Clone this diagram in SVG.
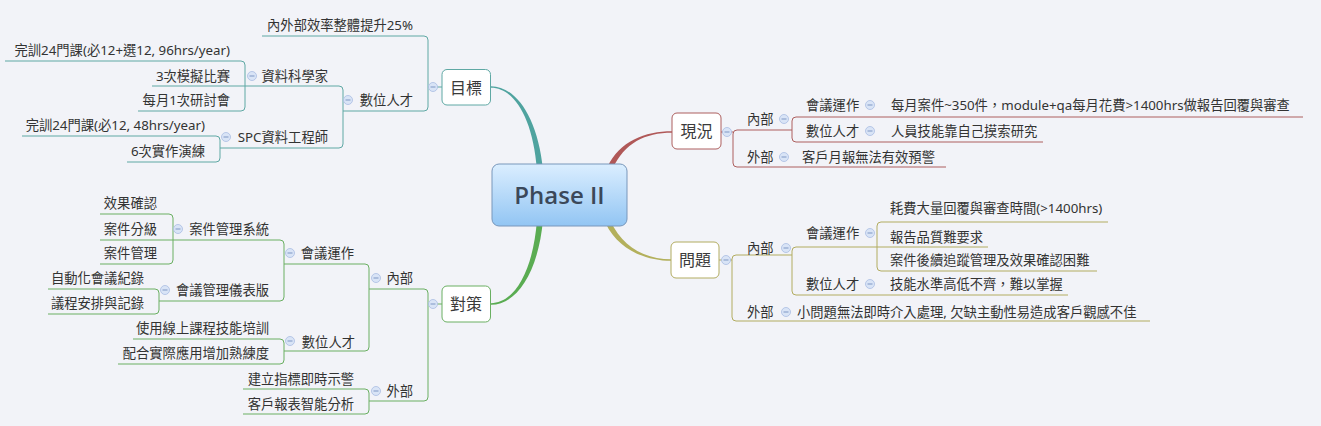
<svg xmlns="http://www.w3.org/2000/svg" xmlns:xlink="http://www.w3.org/1999/xlink" width="1321" height="426" viewBox="0 0 1321 426" xml:lang="zh-TW" lang="zh-TW">
<style>
.t{font-family:"Noto Sans","Noto Sans CJK TC",sans-serif;font-size:13.3px;fill:#333}
.e{text-anchor:end}
.tp{font-family:"Noto Sans","Noto Sans CJK TC",sans-serif;font-size:16px;fill:#3a3a3a;text-anchor:middle}
.ln{fill:none;stroke-width:1}
.teal{stroke:#5fa8a4}
.green{stroke:#6aaf62}
.red{stroke:#ad5f5e}
.olive{stroke:#b2ac60}
.box{fill:#fff;stroke-width:1}
</style>
<defs>
<linearGradient id="cg" x1="0" y1="0" x2="0" y2="1">
<stop offset="0" stop-color="#dbeeff"/>
<stop offset="1" stop-color="#92c5f3"/>
</linearGradient>
<g id="btn"><circle r="4.5" fill="#d9e4f6" stroke="#a9bde2" stroke-width="0.8"/><line x1="-2.5" y1="0" x2="2.5" y2="0" stroke="#7f97c4" stroke-width="1"/></g>
</defs>
<rect width="1321" height="426" fill="#f2f3f8"/>

<g id="connectors">
<path d="M543,170 C538,118 516,86.2 491,86.2 L491,87.8 C514,87.8 533,118 537,170 Z" fill="#4fa39f"/>
<path d="M543,220 C538,274 516,304.8 491,304.8 L491,303.2 C514,303.2 533,272 537,220 Z" fill="#5aac52"/>
<path d="M612.5,169 C624.5,143 645,132.8 672,132.8 L672,131.2 C645,131.2 619.5,141 607.5,167 Z" fill="#b05858"/>
<path d="M610.5,221 C622.5,247 645,259.2 671,259.2 L671,260.8 C645,260.8 617.5,249 605.5,223 Z" fill="#b3b05c"/>

<g class="ln teal">
<path d="M262,36 H424 Q428,36 428,40 V107 Q428,111 424,111 H343"/>
<path d="M428,87 H442"/>
<path d="M152,86 H339 Q343,86 343,90 V144 Q343,148 339,148 H220"/>
<path d="M5,61 H241 Q245,61 245,65 V107 Q245,111 241,111 H138"/>
<path d="M22,136 H216 Q220,136 220,140 V158 Q220,162 216,162 H127"/>
</g>
<g class="ln green">
<path d="M369,289 H424 Q428,289 428,293 V397 Q428,401 424,401 H369"/>
<path d="M428,304 H442"/>
<path d="M284,264 H365 Q369,264 369,268 V347 Q369,351 365,351 H284"/>
<path d="M243,389 H365 Q369,389 369,393 V410 Q369,414 365,414 H243"/>
<path d="M173,240 H280 Q284,240 284,244 V297 Q284,301 280,301 H159"/>
<path d="M100,214 H169 Q173,214 173,218 V260 Q173,264 169,264 H100"/>
<path d="M100,240 H173"/>
<path d="M48,289 H155 Q159,289 159,293 V310 Q159,314 155,314 H48"/>
<path d="M133,339 H280 Q284,339 284,343 V360 Q284,364 280,364 H118"/>
</g>
<g class="ln red">
<path d="M721,132 H733"/>
<path d="M792,130 H737 Q733,130 733,134 V163 Q733,167 737,167 H946"/>
<path d="M1303,117 H796 Q792,117 792,121 V138 Q792,142 796,142 H1043"/>
</g>
<g class="ln olive">
<path d="M719,260 H732"/>
<path d="M792,255 H736 Q732,255 732,259 V317 Q732,321 736,321 H1150"/>
<path d="M988,247 H796 Q792,247 792,251 V291 Q792,295 796,295 H1068"/>
<path d="M1108,222 H881 Q877,222 877,226 V267 Q877,271 881,271 H1097"/>
</g>
</g>

<g id="center">
<rect x="492" y="164" width="135" height="62" rx="7" fill="url(#cg)" stroke="#7897bb" stroke-width="1"/>
<text x="559.5" y="203.5" font-family="'Open Sans','Noto Sans',sans-serif" font-size="24" font-weight="600" fill="#3b4859" text-anchor="middle">Phase II</text>
</g>

<g id="goal">
<rect class="box" x="442" y="69.5" width="48.5" height="35.5" rx="5" stroke="#5fa8a4"/>
<text class="tp" x="466" y="93.5">目標</text>
<use xlink:href="#btn" x="433" y="87"/>
</g>
<g id="goal-eff"><text class="t e" x="413" y="30">內外部效率整體提升25%</text></g>
<g id="goal-talent"><text class="t e" x="413" y="105">數位人才</text><use xlink:href="#btn" x="348" y="100"/></g>
<g id="goal-ds"><text class="t e" x="328" y="81">資料科學家</text><use xlink:href="#btn" x="252" y="76"/></g>
<g id="goal-spc"><text class="t e" x="328" y="142">SPC資料工程師</text><use xlink:href="#btn" x="226" y="137"/></g>
<g id="goal-ds1"><text class="t e" x="230" y="55">完訓24門課(必12+選12, 96hrs/year)</text></g>
<g id="goal-ds2"><text class="t e" x="230" y="81">3次模擬比賽</text></g>
<g id="goal-ds3"><text class="t e" x="230" y="105">每月1次研討會</text></g>
<g id="goal-spc1"><text class="t e" x="205" y="130">完訓24門課(必12, 48hrs/year)</text></g>
<g id="goal-spc2"><text class="t e" x="205" y="156">6次實作演練</text></g>

<g id="measure">
<rect class="box" x="442" y="286" width="48.5" height="36" rx="5" stroke="#6aaf62"/>
<text class="tp" x="466" y="310">對策</text>
<use xlink:href="#btn" x="433" y="304"/>
</g>
<g id="m-in"><text class="t e" x="413" y="283">內部</text><use xlink:href="#btn" x="376" y="278"/></g>
<g id="m-out"><text class="t e" x="413" y="396">外部</text><use xlink:href="#btn" x="376" y="391"/></g>
<g id="m-meet"><text class="t e" x="354" y="258">會議運作</text><use xlink:href="#btn" x="290" y="253"/></g>
<g id="m-talent"><text class="t e" x="355" y="347">數位人才</text><use xlink:href="#btn" x="290" y="341"/></g>
<g id="m-case"><text class="t e" x="269" y="234">案件管理系統</text><use xlink:href="#btn" x="178" y="229"/></g>
<g id="m-dash"><text class="t e" x="269" y="295">會議管理儀表版</text><use xlink:href="#btn" x="165" y="290"/></g>
<g id="m-case1"><text class="t e" x="157" y="208">效果確認</text></g>
<g id="m-case2"><text class="t e" x="157" y="234">案件分級</text></g>
<g id="m-case3"><text class="t e" x="157" y="258">案件管理</text></g>
<g id="m-dash1"><text class="t e" x="144" y="283">自動化會議紀錄</text></g>
<g id="m-dash2"><text class="t e" x="144" y="308">議程安排與記錄</text></g>
<g id="m-tal1"><text class="t e" x="269" y="333">使用線上課程技能培訓</text></g>
<g id="m-tal2"><text class="t e" x="269" y="358">配合實際應用增加熟練度</text></g>
<g id="m-out1"><text class="t e" x="354" y="384">建立指標即時示警</text></g>
<g id="m-out2"><text class="t e" x="354" y="409">客戶報表智能分析</text></g>

<g id="status">
<rect class="box" x="672" y="113" width="49" height="36" rx="5" stroke="#ad5f5e"/>
<text class="tp" x="696.5" y="137">現況</text>
<use xlink:href="#btn" x="727" y="132"/>
</g>
<g id="s-in"><text class="t" x="747" y="124">內部</text><use xlink:href="#btn" x="784" y="119"/></g>
<g id="s-out"><text class="t" x="747" y="162">外部</text><use xlink:href="#btn" x="784" y="157"/></g>
<g id="s-meet"><text class="t" x="806" y="110">會議運作</text><use xlink:href="#btn" x="870" y="105"/></g>
<g id="s-meet1"><text class="t" x="891" y="110">每月案件~350件，module+qa每月花費&gt;1400hrs做報告回覆與審查</text></g>
<g id="s-talent"><text class="t" x="806" y="136">數位人才</text><use xlink:href="#btn" x="870" y="131"/></g>
<g id="s-talent1"><text class="t" x="891" y="136">人員技能靠自己摸索研究</text></g>
<g id="s-out1"><text class="t" x="802" y="162">客戶月報無法有效預警</text></g>

<g id="problem">
<rect class="box" x="671" y="242" width="48" height="36" rx="5" stroke="#b2ac60"/>
<text class="tp" x="695" y="266">問題</text>
<use xlink:href="#btn" x="726" y="260"/>
</g>
<g id="p-in"><text class="t" x="747" y="253">內部</text><use xlink:href="#btn" x="786" y="248"/></g>
<g id="p-out"><text class="t" x="747" y="317">外部</text><use xlink:href="#btn" x="786" y="312"/></g>
<g id="p-meet"><text class="t" x="806" y="238">會議運作</text><use xlink:href="#btn" x="870" y="233"/></g>
<g id="p-meet1"><text class="t" x="890" y="213">耗費大量回覆與審查時間(&gt;1400hrs)</text></g>
<g id="p-meet2"><text class="t" x="890" y="242">報告品質難要求</text></g>
<g id="p-meet3"><text class="t" x="890" y="265">案件後續追蹤管理及效果確認困難</text></g>
<g id="p-talent"><text class="t" x="806" y="289">數位人才</text><use xlink:href="#btn" x="870" y="284"/></g>
<g id="p-talent1"><text class="t" x="890" y="289">技能水準高低不齊，難以掌握</text></g>
<g id="p-out1"><text class="t" x="797" y="317">小問題無法即時介入處理, 欠缺主動性易造成客戶觀感不佳</text></g>
</svg>
